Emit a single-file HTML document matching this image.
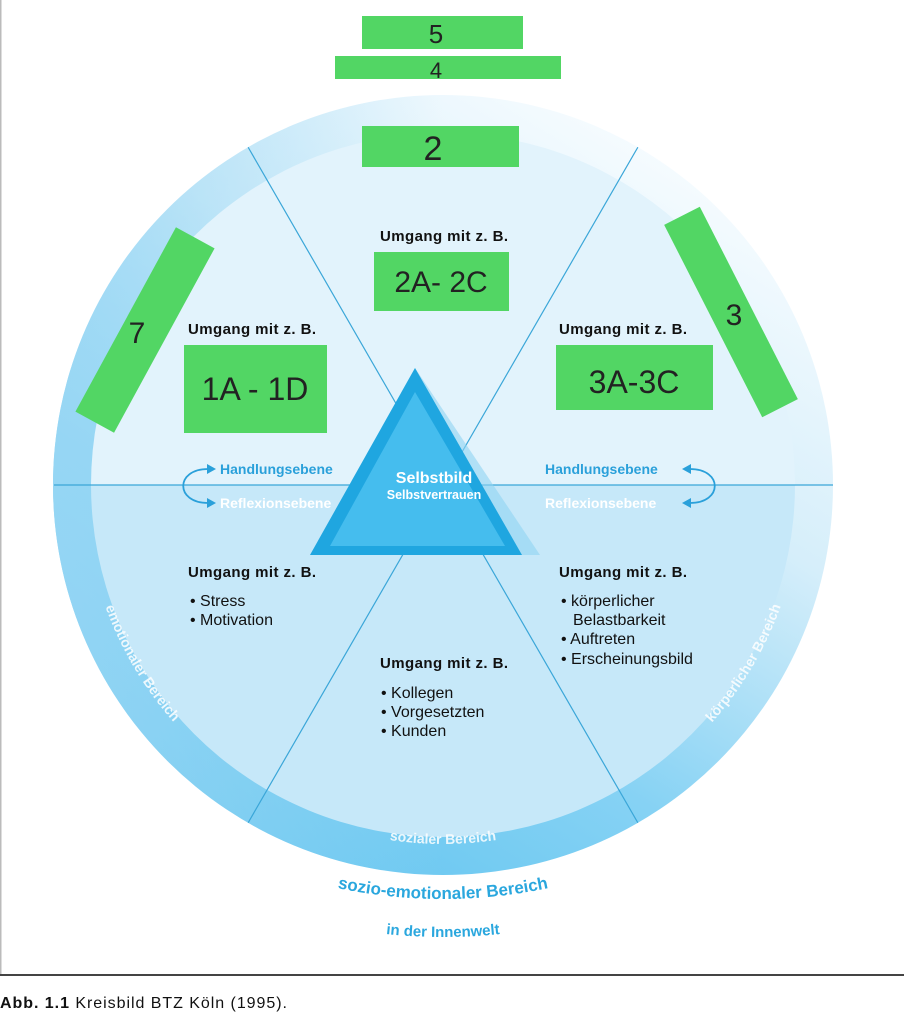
<!DOCTYPE html>
<html><head><meta charset="utf-8"><style>
html,body{margin:0;padding:0;background:#fff;}
svg{display:block;}
</style></head><body>
<svg width="904" height="1024" viewBox="0 0 904 1024" xmlns="http://www.w3.org/2000/svg" font-family="Liberation Sans, sans-serif">
<defs>
<linearGradient id="ring" x1="0.85" y1="0.1" x2="0.3" y2="1">
<stop offset="0" stop-color="#f7fcff"/>
<stop offset="0.35" stop-color="#d5eefa"/>
<stop offset="0.7" stop-color="#86d2f4"/>
<stop offset="1" stop-color="#66c6f0"/>
</linearGradient>
<linearGradient id="ringL" x1="0" y1="0" x2="1" y2="0">
<stop offset="0" stop-color="#9ad7f4" stop-opacity="0.8"/>
<stop offset="0.5" stop-color="#a8dcf5" stop-opacity="0"/>
</linearGradient>
<clipPath id="inner"><circle cx="443" cy="485" r="352"/></clipPath>
<clipPath id="outer"><circle cx="443" cy="485" r="390"/></clipPath>
<path id="ringPath" d="M443,126 A359,359 0 0 0 443,844 A359,359 0 0 0 443,126"/>
<path id="arc1" d="M-71,385 A514,514 0 0 0 957,385"/>
<path id="arc2" d="M-109,385 A552,552 0 0 0 995,385"/>
</defs>
<rect x="0" y="0" width="1.5" height="975" fill="#bbb"/>
<rect x="0" y="974" width="904" height="2" fill="#444"/>

<circle cx="443" cy="485" r="390" fill="url(#ring)"/>
<circle cx="443" cy="485" r="390" fill="url(#ringL)"/>
<g clip-path="url(#inner)">
<rect x="80" y="120" width="740" height="365" fill="#e2f3fc"/>
<rect x="80" y="485" width="740" height="370" fill="#c6e8f9"/>
</g>
<g clip-path="url(#outer)" stroke="#3aa6d8" stroke-width="1.2">
<line x1="54" y1="485" x2="834" y2="485"/>
<line x1="443" y1="485" x2="248" y2="147"/>
<line x1="443" y1="485" x2="638" y2="147"/>
<line x1="443" y1="485" x2="248" y2="823"/>
<line x1="443" y1="485" x2="638" y2="823"/>
</g>

<g font-size="14" fill="#ffffff" font-weight="bold" opacity="0.85">
<text><textPath href="#ringPath" startOffset="33.5%" text-anchor="middle">emotionaler Bereich</textPath></text>
<text><textPath href="#ringPath" startOffset="50%" text-anchor="middle">sozialer Bereich</textPath></text>
<text><textPath href="#ringPath" startOffset="66.5%" text-anchor="middle">körperlicher Bereich</textPath></text>
</g>

<!-- triangle -->
<polygon points="415,368 310,555 540,555" fill="#8fd3f2" opacity="0.6"/>
<polygon points="415,368 310,555 522,555" fill="#1fa6e0"/>
<polygon points="415,392 330,546 505,546" fill="#45bdee"/>
<text x="434" y="483" text-anchor="middle" font-size="16" font-weight="bold" fill="#fff">Selbstbild</text>
<text x="434" y="499" text-anchor="middle" font-size="12.5" font-weight="bold" fill="#fff">Selbstvertrauen</text>

<!-- ebene labels -->
<g font-size="14" font-weight="bold">
<text x="220" y="474" fill="#2aa0da">Handlungsebene</text>
<text x="220" y="508" fill="#ffffff">Reflexionsebene</text>
<text x="545" y="474" fill="#2aa0da">Handlungsebene</text>
<text x="545" y="508" fill="#ffffff">Reflexionsebene</text>
</g>
<g fill="none" stroke="#2aa0da" stroke-width="1.8">
<path d="M208,469 C175,469 175,503 208,503"/>
<path d="M690,469 C723,469 723,503 690,503"/>
</g>
<g fill="#2aa0da">
<polygon points="216,469 207,464 207,474"/>
<polygon points="216,503 207,498 207,508"/>
<polygon points="682,469 691,464 691,474"/>
<polygon points="682,503 691,498 691,508"/>
</g>

<!-- Umgang texts -->
<g font-size="15" font-weight="bold" fill="#111">
<text x="380" y="241" textLength="128">Umgang mit z. B.</text>
<text x="188" y="334" textLength="128">Umgang mit z. B.</text>
<text x="559" y="334" textLength="128">Umgang mit z. B.</text>
<text x="188" y="577" textLength="128">Umgang mit z. B.</text>
<text x="559" y="577" textLength="128">Umgang mit z. B.</text>
<text x="380" y="668" textLength="128">Umgang mit z. B.</text>
</g>
<g font-size="16" fill="#111">
<text x="190" y="606">• Stress</text>
<text x="190" y="625">• Motivation</text>
<text x="561" y="606">• körperlicher</text>
<text x="573" y="625">Belastbarkeit</text>
<text x="561" y="644">• Auftreten</text>
<text x="561" y="664">• Erscheinungsbild</text>
<text x="381" y="698">• Kollegen</text>
<text x="381" y="717">• Vorgesetzten</text>
<text x="381" y="736">• Kunden</text>
</g>

<!-- green boxes -->
<g fill="#52d664">
<rect x="362" y="16" width="161" height="33"/>
<rect x="335" y="56" width="226" height="23"/>
<rect x="362" y="126" width="157" height="41"/>
<rect x="374" y="252" width="135" height="59"/>
<rect x="184" y="345" width="143" height="88"/>
<rect x="556" y="345" width="157" height="65"/>
<rect x="-105" y="-22" width="210" height="44" transform="translate(145,330) rotate(118.6)"/>
<rect x="-108" y="-20" width="216" height="40" transform="translate(731,312) rotate(63)"/>
</g>
<g fill="#222" font-size="26" text-anchor="middle">
<text x="436" y="43">5</text>
<text x="436" y="78" font-size="22">4</text>
<text x="433" y="160" font-size="34">2</text>
<text x="441" y="292" font-size="30">2A- 2C</text>
<text x="255" y="400" font-size="32">1A - 1D</text>
<text x="634" y="393" font-size="32">3A-3C</text>
<text x="137" y="343" font-size="30">7</text>
<text x="734" y="325" font-size="30">3</text>
</g>

<!-- bottom labels -->
<g font-size="17" font-weight="bold" fill="#2aa7de">
<text><textPath href="#arc1" startOffset="50%" text-anchor="middle">sozio-emotionaler Bereich</textPath></text>
</g>
<g font-size="15" font-weight="bold" fill="#2aa7de">
<text><textPath href="#arc2" startOffset="50%" text-anchor="middle">in der Innenwelt</textPath></text>
</g>

<text x="0" y="1008" font-size="16" fill="#111" textLength="287"><tspan font-weight="bold">Abb. 1.1</tspan>  Kreisbild BTZ Köln (1995).</text>
</svg>
</body></html>
